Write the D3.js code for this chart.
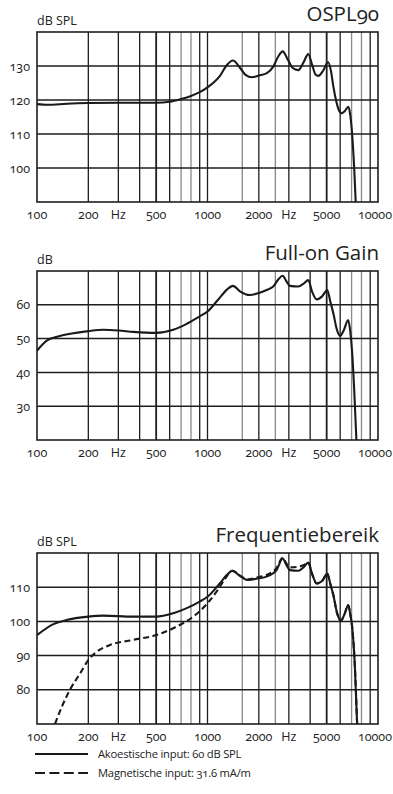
<!DOCTYPE html>
<html>
<head>
<meta charset="utf-8">
<script src="https://cdn.jsdelivr.net/npm/d3@7/dist/d3.min.js"></script>
<style>
  body { margin: 0; background: #fff; }
  svg { display: block; font-family: "Open Sans", sans-serif; font-feature-settings: "onum" 1; fill: #222; }
</style>
</head>
<body>
<div id="chart"></div>
<script>
// tick labels along the frequency axis ("Hz" sits on the 300 / 3000 lines)
const freqLabels = [[100, '100'], [200, '200'], [300, 'Hz'], [500, '500'], [1000, '1000'],
  [2000, '2000'], [3000, 'Hz'], [5000, '5000'], [10000, '10000']];
const gridFreqs = [200, 300, 400, 500, 600, 700, 800, 900, 1000, 1600, 2000, 2500,
  3000, 4000, 5000, 6000, 7000, 8000, 9000];
const greyFreqs = [700, 800, 1600, 2500, 7000, 8000];

// OSPL90 (dB SPL)
const ospl90 = [[100, 118.8], [115, 118.6], [150, 118.9], [200, 119.1], [300, 119.2], [500, 119.2],
  [600, 119.5], [700, 120.3], [800, 121.2], [900, 122.3], [1000, 123.7], [1180, 127], [1300, 130.3],
  [1410, 131.6], [1550, 129.5], [1680, 127.3], [1820, 126.7], [2000, 127.2], [2230, 127.9],
  [2430, 129.8], [2600, 132.8], [2760, 134.3], [2950, 132], [3150, 129.5], [3410, 128.8],
  [3650, 131], [3900, 133.5], [4100, 130.5], [4300, 127.5], [4470, 127.1], [4750, 128.5],
  [5100, 131.1], [5300, 128.5], [5470, 124], [5700, 119.5], [5900, 117], [6130, 116.1],
  [6400, 116.8], [6700, 118], [6900, 115], [7050, 110], [7250, 100], [7430, 88]];

// Full-on Gain (dB)
const fullOnGain = [[100, 46.4], [114, 49.4], [133, 50.6], [160, 51.5], [200, 52.2], [245, 52.6],
  [300, 52.4], [367, 52.0], [500, 51.7], [630, 52.6], [750, 54.3], [900, 56.6], [1000, 58],
  [1150, 61.4], [1300, 64.5], [1410, 65.6], [1550, 64], [1770, 62.9], [2000, 63.5], [2220, 64.4],
  [2430, 65.4], [2600, 67.5], [2760, 68.6], [2900, 67], [3040, 65.6], [3410, 65.4], [3650, 66.2],
  [3900, 67.3], [4100, 64], [4370, 61.6], [4700, 62.5], [5040, 64.4], [5250, 61], [5470, 57.5],
  [5750, 52.5], [5990, 50.8], [6300, 52.5], [6690, 55.5], [6880, 52], [7050, 46], [7250, 35],
  [7500, 18]];

// Frequentiebereik, acoustic input 60 dB SPL
const acoustic = [[100, 96], [125, 99.2], [149, 100.4], [200, 101.4], [245, 101.7], [367, 101.4],
  [500, 101.4], [630, 102.4], [750, 103.8], [900, 105.8], [1000, 107.2], [1180, 111.1],
  [1300, 113.6], [1400, 114.8], [1550, 113.3], [1730, 112.1], [2000, 112.6], [2220, 113.1],
  [2540, 115], [2760, 118.4], [2900, 116.5], [3040, 115], [3410, 114.8], [3650, 115.8],
  [3900, 117.2], [4100, 114], [4370, 111.1], [4700, 111.8], [5040, 114], [5250, 111],
  [5470, 107.7], [5750, 102.5], [6050, 100.2], [6350, 102], [6690, 104.8], [6880, 102],
  [7050, 98.5], [7300, 88], [7570, 68]];

// Frequentiebereik, magnetic input 31.6 mA/m
const magnetic = [[127.5, 70], [140, 75.1], [156, 80], [179, 84.8], [200, 88.7], [224, 91.1],
  [268, 93.1], [367, 94.6], [500, 96], [630, 98], [825, 101.4], [1000, 105.3], [1130, 108.7],
  [1250, 112], [1400, 114.8], [1550, 113.4], [1730, 112.3], [2000, 113], [2220, 113.6],
  [2540, 115.6], [2760, 118.6], [2900, 117], [3040, 115.8], [3410, 116], [3650, 116.4],
  [3900, 117.2], [4100, 114], [4370, 111.1], [4700, 111.8], [5040, 114], [5250, 111],
  [5470, 107.7], [5750, 102.5], [6050, 100.2], [6350, 102], [6690, 104.8], [6880, 102],
  [7050, 98.5], [7300, 88], [7570, 68]];

const legendLabels = ['Akoestische input: 60 dB SPL', 'Magnetische input: 31.6 mA/m'];

const width = 393, height = 794;
const left = 37, right = 378;

const svg = d3.select('#chart').append('svg')
  .attr('width', width)
  .attr('height', height);

const x = d3.scaleLog().domain([100, 10000]).range([left, right]);

const panels = [
  { title: 'OSPL90', unit: 'dB SPL', top: 32, bottom: 202, domain: [90, 140], ticks: [100, 110, 120, 130],
    series: [{ data: ospl90, dash: null }] },
  { title: 'Full-on Gain', unit: 'dB', top: 271, bottom: 440, domain: [20, 70], ticks: [30, 40, 50, 60],
    series: [{ data: fullOnGain, dash: null }] },
  { title: 'Frequentiebereik', unit: 'dB SPL', top: 553, bottom: 724, domain: [70, 120], ticks: [80, 90, 100, 110],
    series: [{ data: magnetic, dash: '6,3.5' }, { data: acoustic, dash: null }] }
];

panels.forEach((p, i) => {
  const y = d3.scaleLinear().domain(p.domain).range([p.bottom, p.top]);
  const g = svg.append('g');

  g.append('clipPath').attr('id', 'clip' + i)
    .append('rect')
      .attr('x', left).attr('y', p.top)
      .attr('width', right - left).attr('height', p.bottom - p.top);

  // vertical grid
  g.selectAll('.vg')
    .data(gridFreqs)
    .enter()
    .append('line')
      .attr('x1', d => x(d)).attr('x2', d => x(d))
      .attr('y1', p.top).attr('y2', p.bottom)
      .attr('stroke', d => greyFreqs.includes(d) ? '#8a8a8a' : '#1e1e1e')
      .attr('stroke-width', d => (d === 500 || d === 5000) ? 1.8 : 1.3);

  // horizontal grid
  g.selectAll('.hg')
    .data(p.ticks)
    .enter()
    .append('line')
      .attr('x1', left).attr('x2', right)
      .attr('y1', d => y(d)).attr('y2', d => y(d))
      .attr('stroke', '#1e1e1e')
      .attr('stroke-width', 1.5);

  g.append('rect')
    .attr('x', left).attr('y', p.top)
    .attr('width', right - left).attr('height', p.bottom - p.top)
    .attr('fill', 'none')
    .attr('stroke', '#1e1e1e')
    .attr('stroke-width', 1.6);

  // y labels
  g.selectAll('.yl')
    .data(p.ticks)
    .enter()
    .append('text')
      .attr('x', 30)
      .attr('y', d => y(d) + 4.5)
      .attr('text-anchor', 'end')
      .style('font-size', '12.5px')
      .text(d => d);

  // x labels; the last one is kept inside the page edge
  g.selectAll('.xl')
    .data(freqLabels)
    .enter()
    .append('text')
      .attr('x', d => d[0] === 10000 ? width - 1 : x(d[0]))
      .attr('y', p.bottom + 17)
      .attr('text-anchor', d => d[0] === 10000 ? 'end' : 'middle')
      .style('font-size', '12.5px')
      .text(d => d[1]);

  g.append('text')
    .attr('x', right + 1)
    .attr('y', p.top - 11)
    .attr('text-anchor', 'end')
    .style('font-size', '20.5px')
    .text(p.title);

  g.append('text')
    .attr('x', left)
    .attr('y', p.top - 7)
    .style('font-size', '12.5px')
    .text(p.unit);

  const line = d3.line()
    .x(d => x(d[0]))
    .y(d => y(d[1]))
    .curve(d3.curveMonotoneX);

  p.series.forEach(s => {
    g.append('path')
      .datum(s.data)
      .attr('clip-path', `url(#clip${i})`)
      .attr('d', line)
      .attr('fill', 'none')
      .attr('stroke', '#1a1a1a')
      .attr('stroke-width', 2.1)
      .attr('stroke-dasharray', s.dash);
  });
});

// legend
const legend = svg.append('g');
legendLabels.forEach((t, i) => {
  const ly = 754 + i * 19;
  legend.append('line')
    .attr('x1', 35).attr('x2', 88)
    .attr('y1', ly).attr('y2', ly)
    .attr('stroke', '#1a1a1a')
    .attr('stroke-width', 2.1)
    .attr('stroke-dasharray', i === 1 ? '10,4.4' : null);
  legend.append('text')
    .attr('x', 98)
    .attr('y', ly + 4)
    .style('font-size', '11.2px')
    .style('letter-spacing', '-0.2px')
    .text(t);
});
</script>
</body>
</html>
